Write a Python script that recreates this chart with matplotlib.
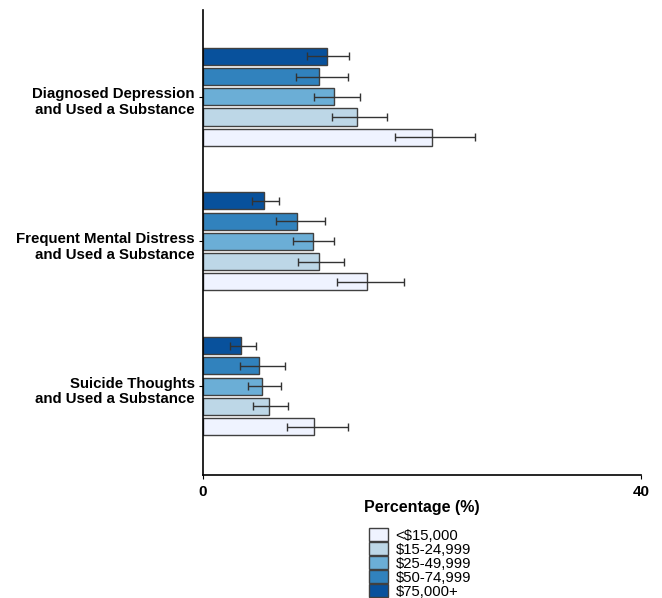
import matplotlib
matplotlib.use("Agg")
import matplotlib.pyplot as plt
import matplotlib.transforms as mtransforms
import numpy as np
from matplotlib.patches import Patch

plt.rcParams['font.family'] = ['Liberation Sans', 'DejaVu Sans']

groups = ['Diagnosed Depression\nand Used a Substance',
          'Frequent Mental Distress\nand Used a Substance',
          'Suicide Thoughts\nand Used a Substance']
incomes = ['<$15,000', '$15-24,999', '$25-49,999', '$50-74,999', '$75,000+']
colors = ['#eff3ff', '#bdd7e7', '#6baed6', '#3182bd', '#08519c']

# values per income bracket, one entry per group
values = {
    '<$15,000':   [20.9, 15.0, 10.1],
    '$15-24,999': [14.1, 10.6, 6.0],
    '$25-49,999': [12.0, 10.0, 5.4],
    '$50-74,999': [10.6, 8.6, 5.1],
    '$75,000+':   [11.3, 5.6, 3.5],
}
lower = {
    '<$15,000':   [17.5, 12.2, 7.7],
    '$15-24,999': [11.8, 8.7, 4.6],
    '$25-49,999': [10.1, 8.2, 4.1],
    '$50-74,999': [8.5, 6.7, 3.4],
    '$75,000+':   [9.5, 4.5, 2.5],
}
upper = {
    '<$15,000':   [24.8, 18.4, 13.2],
    '$15-24,999': [16.8, 12.9, 7.8],
    '$25-49,999': [14.3, 12.0, 7.1],
    '$50-74,999': [13.2, 11.1, 7.5],
    '$75,000+':   [13.3, 6.9, 4.8],
}

fig = plt.figure(figsize=(6.62, 5.98), dpi=100)
ax = fig.add_axes([203/662, 1-475/598, 438/662, 465/598])

y = np.arange(len(groups))
step = 0.14
h = 0.118
# <$15,000 at the bottom of each group, $75,000+ on top
offsets = {'<$15,000': 2*step, '$15-24,999': step, '$25-49,999': 0,
           '$50-74,999': -step, '$75,000+': -2*step}

for inc, c in zip(incomes, colors):
    v = np.array(values[inc])
    lo = v - np.array(lower[inc])
    hi = np.array(upper[inc]) - v
    ax.barh(y + offsets[inc], v, height=h, color=c, edgecolor='#404040', linewidth=1)
    ax.errorbar(v, y + offsets[inc], xerr=[lo, hi], fmt='none', ecolor='#333333',
                elinewidth=1, capsize=3)

ax.set_xlim(0, 40)
ax.set_ylim(2.615, -0.6)
ax.set_xticks([0, 40])
ax.set_xticklabels(['0', '40'], fontweight='bold', fontsize=11)
ax.set_yticks(y)
ax.set_yticklabels(groups, fontweight='bold', fontsize=10.8, linespacing=1.15)
ax.tick_params(axis='y', length=3, pad=3)
ax.tick_params(axis='x', length=3, pad=4)
# labels sit a little below the group centre in the original
shift = mtransforms.ScaledTranslation(0, -3/100, fig.dpi_scale_trans)
for lab in ax.get_yticklabels():
    lab.set_transform(lab.get_transform() + shift)
ax.set_xlabel('Percentage (%)', fontweight='bold', fontsize=11.5, labelpad=1)
ax.spines['top'].set_visible(False)
ax.spines['right'].set_visible(False)
ax.spines['left'].set_linewidth(1.2)
ax.spines['bottom'].set_linewidth(1.2)

handles = [Patch(facecolor=c, edgecolor='#404040', label=l) for l, c in zip(incomes, colors)]
fig.legend(handles=handles, loc='upper left', bbox_to_anchor=(369/662, 1-528/598),
           frameon=False, fontsize=10.7, labelspacing=-0.03, handlelength=1.3,
           handleheight=0.95, handletextpad=0.5, borderpad=0.0, borderaxespad=0)

fig.savefig('out.png', dpi=100)
